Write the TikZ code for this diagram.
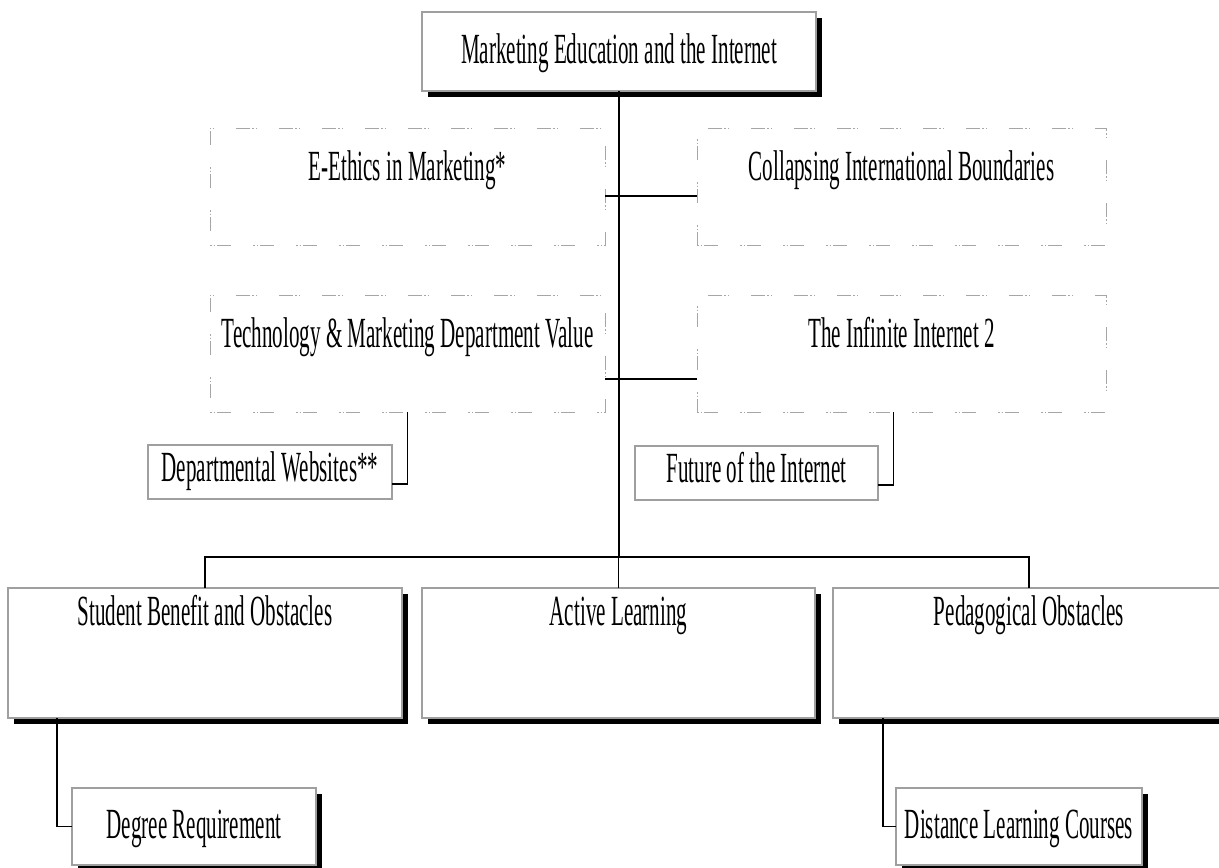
\documentclass[tikz,border=0pt]{standalone}
\usepackage{fontspec}
\setmainfont[FakeStretch=0.49]{Liberation Serif}
\usetikzlibrary{shadows}
\begin{document}
\begin{tikzpicture}[x=1pt,y=-1pt,
  every node/.style={font=\fontsize{43}{46}\selectfont, inner sep=0pt, outer sep=0pt, anchor=base},
  solidbox/.style={draw=gray!75, line width=1.3pt, fill=white},
  shadowed/.style={solidbox, drop shadow={shadow xshift=6pt, shadow yshift=-6pt, fill=black, opacity=1}},
  dotbox/.style={draw=gray!70, line width=0.9pt, dash pattern=on 1.5pt off 2pt on 1.5pt off 2pt on 14pt off 22pt},
  conn/.style={draw=black, line width=1.8pt},
  tallbox/.style={text height=52pt, text depth=65pt},
  lowbox/.style={text height=37pt, text depth=93pt},
  smallbox/.style={text height=36pt, text depth=18pt},
  leafbox/.style={text height=50pt, text depth=27pt}]
\useasboundingbox (0,0) rectangle (1219,868);

\coordinate (bus) at (619,557);

\node[shadowed, minimum width=394pt, text height=51pt, text depth=28pt] (root) at (619,63) {Marketing Education and the Internet};

\node[dotbox, tallbox, minimum width=395pt] (ethics) at (407.5,180) {E-Ethics in Marketing*};
\node[dotbox, tallbox, minimum width=409pt] (collapse) at (901.5,180) {Collapsing International Boundaries};
\node[dotbox, tallbox, minimum width=395pt] (tech) at (407.5,347) {Technology \& Marketing Department Value};
\node[dotbox, tallbox, minimum width=409pt] (infinite) at (901.5,347) {The Infinite Internet 2};

\node[solidbox, smallbox, minimum width=244pt] (dept) at (270,481) {Departmental Websites**};
\node[solidbox, smallbox, minimum width=243pt] (future) at (756.5,482) {Future of the Internet};

\node[shadowed, lowbox, minimum width=394pt] (student) at (205,625) {Student Benefit and Obstacles};
\node[shadowed, lowbox, minimum width=393pt] (active) at (618.5,625) {Active Learning};
\node[shadowed, lowbox, minimum width=392pt] (pedag) at (1029,625) {Pedagogical Obstacles};

\node[shadowed, leafbox, minimum width=244pt] (degree) at (194,838) {Degree Requirement};
\node[shadowed, leafbox, minimum width=246pt] (distance) at (1019,838) {Distance Learning Courses};

\draw[conn] (root.south) -- (bus);
\draw[conn] ([yshift=-9.5pt]ethics.east) -- ([yshift=-9.5pt]collapse.west);
\draw[conn] ([yshift=-25.5pt]tech.east) -- ([yshift=-25.5pt]infinite.west);
\draw[conn] (student.north) |- (bus) -| (pedag.north);
\draw[conn] (active.north) -- (active.north |- bus);
\draw[conn] (tech.south) |- ([yshift=-12pt]dept.east);
\draw[conn] ([xshift=-8pt]infinite.south) |- ([yshift=-12pt]future.east);
\draw[conn] ([xshift=49pt]student.south west) |- (degree.west);
\draw[conn] ([xshift=50pt]pedag.south west) |- (distance.west);
\end{tikzpicture}
\end{document}
